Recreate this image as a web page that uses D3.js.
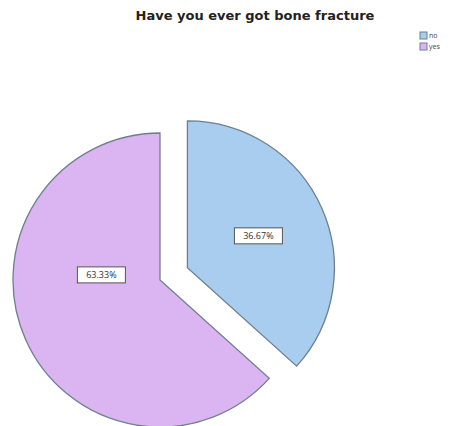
<!DOCTYPE html>
<html>
<head>
<meta charset="utf-8">
<script src="https://cdn.jsdelivr.net/npm/d3@7"></script>
<style>
  body { margin: 0; background: #fff; }
  svg { display: block; }
</style>
</head>
<body>
<div id="chart"></div>
<script>
// Dados do gráfico
const categories = ['no', 'yes'];
const percents = [36.67, 63.33];
const colors = ['#a9cdee', '#dbb4f2'];
const title = 'Have you ever got bone fracture';

const width = 456, height = 426;
const radius = 147;
const cx = 160, cy = 280;     // centro da fatia principal
const explode = 30;           // deslocamento da fatia destacada

const svg = d3.select('#chart')
  .append('svg')
  .attr('width', width)
  .attr('height', height);

// Título
svg.append('text')
  .attr('x', 255)
  .attr('y', 20)
  .attr('text-anchor', 'middle')
  .attr('font-family', 'DejaVu Sans, sans-serif')
  .attr('font-size', '13px')
  .attr('font-weight', 'bold')
  .attr('fill', '#222')
  .text(title);

const pie = d3.pie().sort(null).value(d => d);
const arcs = pie(percents);
const arc = d3.arc().innerRadius(0).outerRadius(radius);

const g = svg.append('g').attr('transform', `translate(${cx},${cy})`);

// Posição do rótulo: fatia destacada no centróide da área, a outra um pouco girada
const labelPos = (d, i) => {
  const mid = (d.startAngle + d.endAngle) / 2;
  if (i === 0) {
    const a = (d.endAngle - d.startAngle) / 2;
    const r = 2 * radius * Math.sin(a) / (3 * a);
    return d3.pointRadial(mid, r);
  }
  return d3.pointRadial(mid + 0.5, radius * 0.40);
};

const slices = g.selectAll('g.slice')
  .data(arcs)
  .enter()
  .append('g')
  .attr('class', 'slice')
  .attr('transform', (d, i) => {
    if (i !== 0) return null;
    const [dx, dy] = d3.pointRadial((d.startAngle + d.endAngle) / 2, explode);
    return `translate(${dx},${dy})`;
  });

slices.append('path')
  .attr('d', arc)
  .attr('fill', (d, i) => colors[i])
  .attr('stroke', '#6f7f8e')
  .attr('stroke-width', 1.3);

// Rótulos com caixa
slices.each(function (d, i) {
  const [lx, ly] = labelPos(d, i);
  const sel = d3.select(this);
  const txt = sel.append('text')
    .attr('x', lx)
    .attr('y', ly)
    .attr('dy', '0.35em')
    .attr('text-anchor', 'middle')
    .attr('font-family', 'Open Sans, sans-serif')
    .attr('font-size', '9px')
    .attr('fill', '#333')
    .text(d3.format('.2f')(d.data) + '%');
  const bb = txt.node().getBBox();
  sel.insert('rect', 'text')
    .attr('x', lx - 24)
    .attr('y', bb.y - 1.5)
    .attr('width', 48)
    .attr('height', bb.height + 3)
    .attr('fill', '#fff')
    .attr('stroke', '#555')
    .attr('stroke-width', 1);
});

// Legenda
const legend = svg.append('g').attr('transform', 'translate(420,32)');
const items = legend.selectAll('g')
  .data(categories)
  .enter()
  .append('g')
  .attr('transform', (d, i) => `translate(0,${i * 11})`);

items.append('rect')
  .attr('width', 7)
  .attr('height', 7)
  .attr('fill', (d, i) => colors[i])
  .attr('stroke', '#6f7f8e');

items.append('text')
  .attr('x', 9)
  .attr('y', 6)
  .attr('font-family', 'Open Sans, sans-serif')
  .attr('font-size', '7px')
  .attr('fill', '#444')
  .text(d => d);
</script>
</body>
</html>
